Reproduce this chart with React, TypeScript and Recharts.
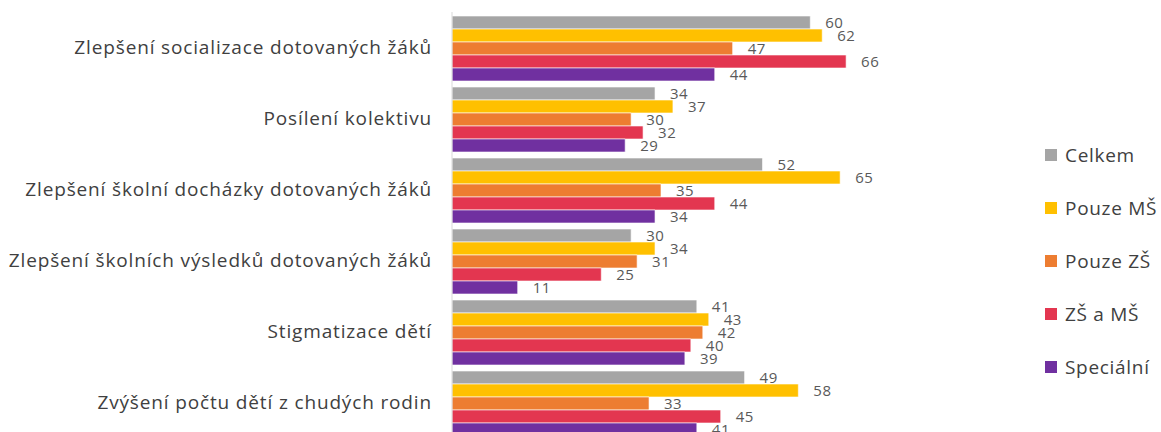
import { BarChart, Bar, XAxis, YAxis, LabelList } from 'recharts'

const categories = [
  'Zlepšení socializace dotovaných žáků',
  'Posílení kolektivu',
  'Zlepšení školní docházky dotovaných žáků',
  'Zlepšení školních výsledků dotovaných žáků',
  'Stigmatizace dětí',
  'Zvýšení počtu dětí z chudých rodin',
]

const celkem = [60, 34, 52, 30, 41, 49]
const pouzeMS = [62, 37, 65, 34, 43, 58]
const pouzeZS = [47, 30, 35, 31, 42, 33]
const zsAMs = [66, 32, 44, 25, 40, 45]
const specialni = [44, 29, 34, 11, 39, 41]

const series = [
  { key: 'celkem', name: 'Celkem', values: celkem, color: '#A5A5A5' },
  { key: 'pouzeMS', name: 'Pouze MŠ', values: pouzeMS, color: '#FFC000' },
  { key: 'pouzeZS', name: 'Pouze ZŠ', values: pouzeZS, color: '#ED7D31' },
  { key: 'zsAMs', name: 'ZŠ a MŠ', values: zsAMs, color: '#E33650' },
  { key: 'specialni', name: 'Speciální', values: specialni, color: '#7030A0' },
]

const data = categories.map((name, i) => {
  const row: Record<string, string | number> = { name }
  series.forEach((s) => {
    row[s.key] = s.values[i]
  })
  return row
})

const FONT = '"Open Sans", "Noto Sans", sans-serif'

export default function App() {
  return (
    <div style={{ position: 'relative', width: 1161, height: 432, overflow: 'hidden', background: '#fff' }}>
      <style>{'body{margin:0;overflow:hidden}'}</style>
      <BarChart
        width={1000}
        height={440}
        data={data}
        layout="vertical"
        margin={{ top: 12, right: 130, bottom: 2, left: 0 }}
        barCategoryGap={4}
        barGap={0}
      >
        <XAxis type="number" domain={[0, 70]} hide />
        <YAxis
          type="category"
          dataKey="name"
          width={452}
          axisLine={{ stroke: '#D9D9D9' }}
          tickLine={false}
          tickMargin={14}
          interval={0}
          tick={{ fill: '#404040', fontSize: 19, fontFamily: FONT, fontWeight: 400, letterSpacing: 0.85 }}
        />
        {series.map((s) => (
          <Bar
            key={s.key}
            dataKey={s.key}
            name={s.name}
            fill={s.color}
            stroke="#ffffff"
            strokeWidth={0.6}
            isAnimationActive={false}
          >
            <LabelList
              dataKey={s.key}
              position="right"
              offset={15}
              fill="#595959"
              fontSize={15}
              fontFamily={FONT}
              letterSpacing={0.5}
            />
          </Bar>
        ))}
      </BarChart>
      {/* legend */}
      <div
        style={{
          position: 'absolute',
          left: 1045,
          top: 129,
          fontFamily: FONT,
          fontSize: 19,
          letterSpacing: 0.7,
          color: '#404040',
        }}
      >
        {series.map((s) => (
          <div key={s.key} style={{ display: 'flex', alignItems: 'center', height: 52.8 }}>
            <span style={{ display: 'inline-block', width: 12, height: 12, background: s.color, marginRight: 8 }} />
            <span>{s.name}</span>
          </div>
        ))}
      </div>
    </div>
  )
}
